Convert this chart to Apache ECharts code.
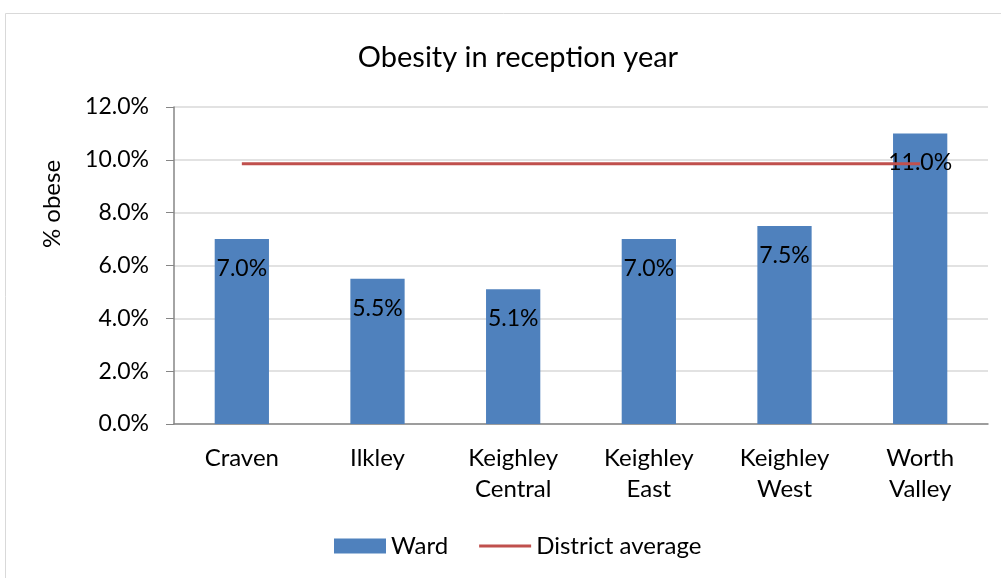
<!DOCTYPE html>
<html>
<head>
<meta charset="utf-8">
<script src="https://cdn.jsdelivr.net/npm/echarts@6/dist/echarts.min.js"></script>
<style>
  html, body { margin: 0; padding: 0; background: #fff; }
  #chart { width: 1001px; height: 578px; }
</style>
</head>
<body>
<div id="chart"></div>
<script>
var wards = ["Craven", "Ilkley", "Keighley\nCentral", "Keighley\nEast", "Keighley\nWest", "Worth\nValley"];
var wardValues = [7.0, 5.5, 5.1, 7.0, 7.5, 11.0];
var districtAverage = [9.85, 9.85, 9.85, 9.85, 9.85, 9.85];

var font = "Lato, 'Liberation Sans', sans-serif";
var myChart = echarts.init(document.getElementById("chart"));

myChart.setOption({
  animation: false,
  textStyle: { fontFamily: font },
  title: {
    text: "Obesity in reception year",
    left: 513,
    top: 38,
    textAlign: "center",
    textStyle: { fontFamily: font, fontSize: 29, fontWeight: "normal", color: "#000" }
  },
  graphic: [
    {
      type: "rect",
      shape: { x: 5.5, y: 13.5, width: 1010, height: 600 },
      style: { fill: null, stroke: "#D9D9D9", lineWidth: 1 },
      silent: true
    },
    {
      type: "text",
      x: 52,
      y: 204,
      rotation: Math.PI / 2,
      style: {
        text: "% obese",
        font: "24px " + font,
        fill: "#000",
        textAlign: "center",
        textVerticalAlign: "middle"
      }
    }
  ],
  legend: {
    bottom: 15,
    left: 329,
    itemGap: 31,
    itemWidth: 52,
    itemHeight: 15,
    textStyle: { fontFamily: font, fontSize: 24, color: "#000" },
    data: [
      { name: "Ward", icon: "rect" },
      { name: "District average", icon: "path://M0,0H52V3H0Z" }
    ]
  },
  grid: { left: 174, right: 13, top: 107, bottom: 154 },
  xAxis: {
    type: "category",
    data: wards,
    axisLine: { lineStyle: { color: "#868686", width: 1.5 } },
    axisTick: { length: 7, lineStyle: { color: "#868686" } },
    axisLabel: { color: "#000", fontFamily: font, fontSize: 24, lineHeight: 31, margin: 19 }
  },
  yAxis: {
    type: "value",
    min: 0,
    max: 12,
    interval: 2,
    axisLine: { show: true, lineStyle: { color: "#868686", width: 1.5 } },
    axisTick: { show: true, length: 8, lineStyle: { color: "#868686" } },
    splitLine: { lineStyle: { color: "#D9D9D9", width: 1.5 } },
    axisLabel: {
      color: "#000",
      fontFamily: font,
      fontSize: 23,
      margin: 25,
      formatter: function (v) { return v.toFixed(1) + "%"; }
    }
  },
  series: [
    {
      name: "Ward",
      type: "bar",
      data: wardValues,
      barWidth: "40%",
      itemStyle: { color: "#4F81BD" },
      label: {
        show: true,
        position: "insideTop",
        distance: 18,
        color: "#000",
        fontFamily: font,
        fontSize: 23,
        formatter: function (p) { return p.value.toFixed(1) + "%"; }
      },
      z: 2
    },
    {
      name: "District average",
      type: "line",
      data: districtAverage,
      symbol: "none",
      lineStyle: { color: "#C0504D", width: 3 },
      itemStyle: { color: "#C0504D" },
      z: 3
    }
  ]
});
</script>
</body>
</html>
